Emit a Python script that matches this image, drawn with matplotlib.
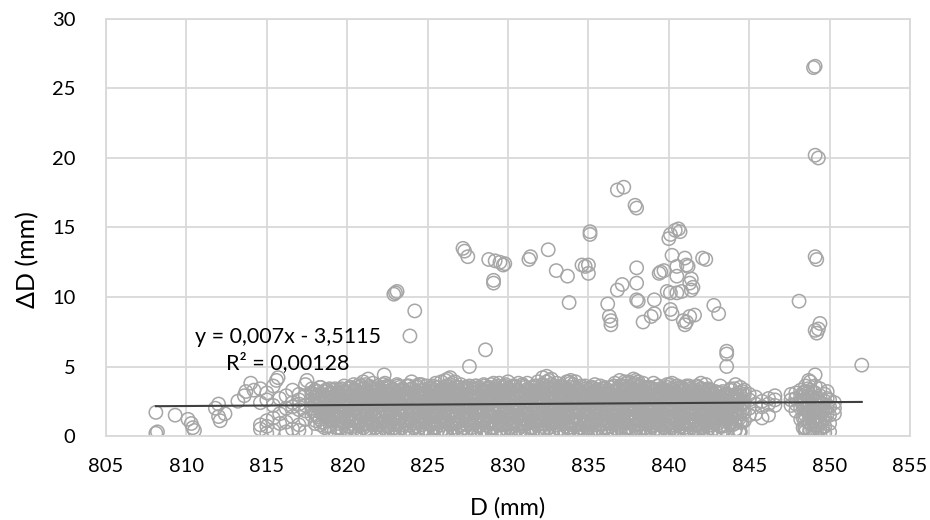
import numpy as np
import matplotlib
matplotlib.use("Agg")
from matplotlib import pyplot as plt

plt.rcParams['font.family'] = ['Lato', 'DejaVu Sans']

# sparse points on the left and isolated high values
out_x = [808.1, 808.1, 808.2, 809.3, 810.1, 810.3, 810.5, 810.4, 811.8, 812.0, 812.1, 812.0, 812.4,
         813.2, 813.6, 813.7, 814.0, 814.2, 815.6, 815.7, 817.5, 822.3,
         823.0, 823.1, 822.9, 824.2, 823.9,
         827.3, 827.5, 827.2, 827.6, 828.6,
         828.8, 829.2, 829.5, 829.8, 829.7, 829.1, 829.1, 831.3, 831.4,
         832.5, 833.0, 833.7, 833.8,
         834.6, 834.8, 835.0, 835.0, 835.1, 835.1,
         836.2, 836.4, 836.4, 836.3, 836.8, 837.2,
         836.8, 837.1, 837.9, 838.0, 838.0, 838.0,
         838.0, 838.1, 838.4, 838.9, 839.1, 839.1,
         839.5, 839.4, 839.7, 839.9, 840.1, 840.1, 840.2,
         840.0, 840.1, 840.4, 840.7, 840.6,
         840.2, 840.5, 840.5, 840.5, 840.8,
         840.9, 841.1, 841.3, 841.6, 841.0,
         841.0, 841.1, 841.2, 841.4, 841.3, 841.4, 841.5,
         842.1, 842.3, 842.8, 843.1, 843.6, 843.6, 843.6,
         848.1, 849.1, 849.0, 849.1, 849.3, 849.1, 849.2,
         849.4, 849.1, 849.2, 849.3, 852.0, 848.7]
out_y = [1.7, 0.2, 0.3, 1.5, 1.2, 0.9, 0.4, 0.6, 2.0, 1.4, 1.1, 2.3, 1.6,
         2.5, 2.9, 3.2, 3.8, 3.3, 4.0, 4.2, 4.0, 4.4,
         10.3, 10.4, 10.2, 9.0, 7.2,
         13.3, 12.9, 13.5, 5.0, 6.2,
         12.7, 12.6, 12.5, 12.4, 12.3, 11.2, 11.0, 12.7, 12.9,
         13.4, 11.9, 11.5, 9.6,
         12.3, 12.2, 12.3, 11.7, 14.7, 14.5,
         9.5, 8.3, 8.0, 8.6, 17.7, 17.9,
         10.5, 10.9, 16.6, 16.4, 12.1, 11.0,
         9.8, 9.7, 8.2, 8.6, 8.8, 9.8,
         11.8, 11.7, 11.9, 10.4, 10.3, 9.1, 8.8,
         14.2, 14.5, 14.8, 14.7, 14.9,
         13.0, 12.2, 11.5, 10.3, 10.4,
         8.3, 8.2, 8.6, 8.7, 8.0,
         12.8, 12.3, 12.2, 11.3, 11.0, 10.5, 10.7,
         12.8, 12.7, 9.4, 8.8, 5.9, 6.1, 5.0,
         9.7, 26.6, 26.5, 20.2, 20.0, 12.9, 12.7,
         8.1, 7.6, 7.4, 7.7, 5.1, 4.0]

# dense band: column positions and the values read in each column
band_cols = [814.6, 815.0, 815.4, 815.8, 816.2, 816.6, 817.0, 817.4, 817.8,
             818.0, 818.3, 818.6, 818.9, 819.2, 819.5, 819.8, 820.1, 820.4, 820.7,
             821.0, 821.3, 821.6, 821.9, 822.2, 822.5, 822.8, 823.1, 823.4, 823.7,
             824.0, 824.3, 824.6, 824.9, 825.2, 825.5, 825.8, 826.1, 826.4, 826.7,
             827.0, 827.3, 827.6, 827.9, 828.2, 828.5, 828.8, 829.1, 829.4, 829.7,
             830.0, 830.3, 830.6, 830.9, 831.2, 831.5, 831.8, 832.1, 832.4, 832.7,
             833.0, 833.3, 833.6, 833.9, 834.2, 834.5, 834.8, 835.1, 835.4, 835.7,
             836.0, 836.3, 836.6, 836.9, 837.2, 837.5, 837.8, 838.1, 838.4, 838.7,
             839.0, 839.3, 839.6, 839.9, 840.2, 840.5, 840.8, 841.1, 841.4, 841.7,
             842.0, 842.3, 842.6, 842.9, 843.2, 843.5, 843.8, 844.1, 844.4, 844.7,
             845.0, 845.4, 845.8, 846.2, 846.6, 847.6, 847.9, 848.2, 848.5, 848.8,
             849.1, 849.4, 849.7, 850.0, 850.3]
band_vals = [
    [0.5, 0.8, 2.4, 3.4], [0.2, 0.7, 1.1, 2.6, 3.1], [0.4, 1.3, 2.2, 3.6],
    [0.9, 1.6, 2.7], [0.3, 1.0, 2.0, 2.9], [0.5, 1.4, 2.1, 2.4, 3.3],
    [0.4, 0.8, 1.9, 2.3, 2.6, 3.0], [0.3, 1.2, 1.8, 2.2, 2.9, 3.7], [1.5, 2.0, 2.6, 3.1, 3.4],
    [0.9, 1.6, 2.3, 2.8, 3.3], [1.2, 1.9, 2.5, 3.0, 3.5], [0.6, 1.4, 2.1, 2.7, 3.2],
    [0.3, 1.1, 1.8, 2.4, 3.0, 3.4], [0.4, 1.5, 2.2, 2.9, 3.3], [0.2, 0.9, 1.7, 2.6, 3.1],
    [1.3, 2.0, 2.5, 3.2, 3.6], [0.2, 0.7, 1.5, 2.3, 2.9, 3.4], [0.5, 1.2, 1.9, 2.6, 3.3, 3.7],
    [0.1, 1.0, 1.7, 2.4, 3.0, 3.5], [0.6, 1.4, 2.1, 2.8, 3.4, 3.9], [0.3, 0.9, 1.6, 2.3, 3.1, 4.1],
    [0.8, 1.5, 2.2, 2.7, 3.3, 3.8], [0.1, 1.1, 1.8, 2.5, 3.0, 3.6], [0.4, 1.3, 2.0, 2.9, 3.5],
    [0.2, 0.7, 1.6, 2.4, 3.2, 3.6], [0.5, 1.2, 1.9, 2.6, 3.0, 3.4], [0.3, 1.0, 1.7, 2.3, 2.9, 3.7],
    [0.6, 1.4, 2.1, 2.8, 3.3], [0.2, 0.9, 1.6, 2.5, 3.1, 3.6], [0.4, 1.2, 2.0, 2.7, 3.4, 3.9],
    [0.7, 1.5, 2.2, 2.9, 3.5], [0.3, 1.1, 1.8, 2.4, 3.0, 3.7], [0.5, 1.3, 2.1, 2.6, 3.2],
    [0.2, 0.8, 1.6, 2.3, 2.9, 3.5], [0.6, 1.4, 1.9, 2.7, 3.3, 3.8], [0.3, 1.0, 1.7, 2.5, 3.1],
    [0.4, 1.2, 2.0, 2.8, 3.4, 4.0], [0.1, 0.8, 1.5, 2.2, 3.0, 3.7, 4.2], [0.5, 1.3, 2.1, 2.6, 3.2, 3.9],
    [0.3, 1.1, 1.8, 2.4, 3.0, 3.5], [0.6, 1.4, 2.2, 2.9, 3.3], [0.2, 0.9, 1.6, 2.3, 2.8, 3.6],
    [0.4, 1.2, 1.9, 2.7, 3.4], [0.1, 0.7, 1.5, 2.1, 2.9, 3.5], [0.5, 1.3, 2.0, 2.6, 3.2, 3.7],
    [0.2, 1.0, 1.7, 2.4, 3.0, 3.4], [0.6, 1.4, 2.2, 2.8, 3.3, 3.8], [0.3, 1.1, 1.8, 2.5, 3.1, 3.6],
    [0.1, 0.8, 1.6, 2.3, 2.9, 3.5], [0.4, 1.2, 2.0, 2.7, 3.4, 3.9], [0.2, 0.9, 1.5, 2.2, 3.0, 3.6],
    [0.5, 1.3, 2.1, 2.8, 3.3], [0.0, 0.7, 1.7, 2.4, 3.1, 3.7], [0.3, 1.0, 1.9, 2.6, 3.2, 3.8],
    [0.1, 0.6, 1.4, 2.2, 2.9, 3.5], [0.4, 1.1, 1.8, 2.5, 3.0, 3.6], [0.2, 0.9, 1.6, 2.3, 2.8, 3.4],
    [0.5, 1.3, 2.0, 2.7, 3.3, 3.9, 4.3], [0.3, 1.0, 1.7, 2.4, 3.1, 3.7, 4.1], [0.1, 0.8, 1.5, 2.2, 2.9, 3.5],
    [0.4, 1.2, 1.9, 2.6, 3.2, 3.6], [0.2, 0.7, 1.6, 2.3, 3.0, 3.4], [0.5, 1.1, 1.8, 2.5, 3.1, 3.8, 4.0],
    [0.3, 0.9, 1.4, 2.1, 2.8, 3.5, 3.9], [0.0, 0.6, 1.3, 2.0, 2.7, 3.3], [0.4, 1.0, 1.7, 2.4, 3.0, 3.6],
    [0.2, 0.8, 1.5, 2.2, 2.9, 3.4], [0.5, 1.2, 1.9, 2.6, 3.2, 3.7], [0.3, 0.9, 1.6, 2.3, 2.8, 3.3],
    [0.6, 1.3, 2.0, 2.5, 3.1, 3.5], [0.2, 1.0, 1.7, 2.4, 3.0], [0.4, 1.1, 1.8, 2.6, 3.2, 3.6],
    [0.1, 0.7, 1.5, 2.2, 2.9, 3.4], [0.3, 1.0, 1.7, 2.5, 3.1, 3.6], [0.0, 0.6, 1.4, 2.1, 2.8, 3.4, 3.9],
    [0.4, 1.2, 1.9, 2.6, 3.2, 3.7, 4.1], [0.2, 0.8, 1.6, 2.3, 3.0, 3.5, 3.9], [0.0, 0.5, 1.3, 2.0, 2.7, 3.3, 3.8],
    [0.3, 1.1, 1.8, 2.4, 3.0, 3.5], [0.1, 0.7, 1.5, 2.2, 2.9, 3.4], [0.4, 1.0, 1.7, 2.5, 3.1, 3.6],
    [0.2, 0.8, 1.4, 2.1, 2.8, 3.3], [0.5, 1.2, 1.9, 2.6, 3.2, 3.7], [0.0, 0.6, 1.3, 2.0, 2.7, 3.4, 3.8],
    [0.3, 1.0, 1.6, 2.3, 3.0, 3.6], [0.1, 0.7, 1.5, 2.2, 2.9, 3.5], [0.4, 1.1, 1.8, 2.5, 3.1, 3.6],
    [0.2, 0.9, 1.6, 2.4, 3.0, 3.4], [0.5, 1.2, 2.0, 2.7, 3.3], [0.0, 0.6, 1.4, 2.1, 2.8, 3.4, 3.8],
    [0.3, 1.0, 1.7, 2.4, 3.0, 3.7], [0.1, 0.8, 1.5, 2.2, 2.9, 3.3], [0.4, 1.1, 1.9, 2.6, 3.2],
    [0.2, 0.7, 1.4, 2.0, 2.7, 3.1, 3.6], [0.5, 1.2, 1.8, 2.5, 3.0], [1.0, 1.6, 2.3, 2.9, 3.3],
    [0.3, 0.9, 1.5, 2.2, 2.8, 3.4], [0.2, 0.4, 1.3, 2.0, 2.6, 3.1], [1.1, 1.7, 2.4, 3.0, 3.3],
    [1.5, 2.0, 2.6, 3.0], [1.6, 2.3, 2.8], [1.3, 2.1, 2.5],
    [1.5, 2.3, 2.7], [2.2, 2.6, 2.9], [2.2, 2.6, 3.0],
    [1.8, 2.3, 2.7, 3.1], [1.2, 2.0, 2.5, 2.9, 3.3], [0.3, 0.6, 1.5, 2.1, 2.6, 3.0, 3.6],
    [0.4, 0.9, 1.7, 2.3, 2.8, 3.3, 3.9], [0.2, 0.8, 1.4, 2.0, 2.6, 3.1, 3.6, 4.4], [0.1, 0.5, 1.2, 1.8, 2.4, 2.9, 3.4],
    [0.2, 0.7, 1.3, 1.9, 2.5, 3.0], [0.3, 0.9, 1.5, 2.1, 2.6], [1.6, 2.0, 2.4],
]

# second pass over the band, read between the first columns
band2_cols = [817.85, 818.15, 818.45, 818.75, 819.05, 819.35, 819.65, 819.95, 820.25, 820.55,
              820.85, 821.15, 821.45, 821.75, 822.05, 822.35, 822.65, 822.95, 823.25, 823.55,
              823.85, 824.15, 824.45, 824.75, 825.05, 825.35, 825.65, 825.95, 826.25, 826.55,
              826.85, 827.15, 827.45, 827.75, 828.05, 828.35, 828.65, 828.95, 829.25, 829.55,
              829.85, 830.15, 830.45, 830.75, 831.05, 831.35, 831.65, 831.95, 832.25, 832.55,
              832.85, 833.15, 833.45, 833.75, 834.05, 834.35, 834.65, 834.95, 835.25, 835.55,
              835.85, 836.15, 836.45, 836.75, 837.05, 837.35, 837.65, 837.95, 838.25, 838.55,
              838.85, 839.15, 839.45, 839.75, 840.05, 840.35, 840.65, 840.95, 841.25, 841.55,
              841.85, 842.15, 842.45, 842.75, 843.05, 843.35, 843.65, 843.95, 844.25, 844.55,
              848.35, 848.65, 848.95, 849.25, 849.55, 849.85]
band2_vals = [
    [1.8, 2.4, 3.0], [1.4, 2.2, 2.8, 3.2], [1.0, 1.7, 2.5, 3.0],
    [0.7, 1.4, 2.0, 2.7, 3.3], [1.1, 1.8, 2.6, 3.1], [0.6, 1.3, 2.1, 2.8],
    [1.0, 1.6, 2.3, 2.9, 3.4], [0.5, 1.2, 2.0, 2.6, 3.2], [0.9, 1.6, 2.2, 2.9, 3.5],
    [0.4, 1.3, 2.0, 2.7, 3.3], [0.8, 1.5, 2.3, 3.0, 3.6], [0.5, 1.2, 1.9, 2.6, 3.2, 3.7],
    [1.0, 1.8, 2.5, 3.0, 3.5], [0.6, 1.3, 2.0, 2.8, 3.3], [0.9, 1.6, 2.2, 2.7, 3.4],
    [0.5, 1.1, 1.8, 2.6, 3.1, 3.8], [0.8, 1.5, 2.3, 2.9, 3.5], [0.6, 1.3, 2.0, 2.7, 3.2],
    [1.0, 1.6, 2.4, 3.0, 3.5], [0.4, 1.1, 1.9, 2.6, 3.3], [0.8, 1.5, 2.2, 2.9, 3.6],
    [0.6, 1.3, 2.0, 2.6, 3.1], [1.0, 1.7, 2.4, 3.1, 3.7], [0.5, 1.2, 1.9, 2.7, 3.3],
    [0.9, 1.5, 2.1, 2.8, 3.4], [0.6, 1.2, 1.9, 2.5, 3.1, 3.6], [1.0, 1.8, 2.4, 3.0, 3.5],
    [0.5, 1.3, 2.1, 2.7, 3.3], [0.9, 1.6, 2.3, 2.9, 3.6, 4.1], [0.6, 1.2, 1.9, 2.6, 3.2, 3.8],
    [1.0, 1.7, 2.4, 3.0, 3.5], [0.5, 1.3, 2.0, 2.7, 3.4], [0.8, 1.5, 2.2, 2.9, 3.5],
    [0.6, 1.3, 2.0, 2.6, 3.1], [1.0, 1.7, 2.5, 3.1, 3.6], [0.4, 1.1, 1.8, 2.5, 3.2],
    [0.8, 1.5, 2.2, 2.8, 3.4], [0.6, 1.4, 2.0, 2.7, 3.3, 3.7], [1.0, 1.6, 2.3, 3.0, 3.5],
    [0.5, 1.2, 1.9, 2.6, 3.2], [0.9, 1.6, 2.4, 3.1, 3.7], [0.6, 1.3, 2.0, 2.7, 3.3],
    [1.0, 1.7, 2.4, 3.0, 3.6], [0.4, 1.2, 1.9, 2.6, 3.2], [0.8, 1.5, 2.2, 2.9, 3.5],
    [0.6, 1.3, 2.0, 2.7, 3.3], [1.0, 1.7, 2.5, 3.1, 3.6], [0.5, 1.2, 1.9, 2.6, 3.2],
    [0.9, 1.6, 2.3, 3.0, 3.6], [0.6, 1.3, 2.1, 2.8, 3.4, 4.0], [1.0, 1.7, 2.4, 3.0, 3.6],
    [0.5, 1.2, 1.9, 2.6, 3.2], [0.9, 1.6, 2.3, 2.9, 3.5], [0.6, 1.3, 2.0, 2.7, 3.3, 3.9],
    [1.0, 1.7, 2.4, 3.1, 3.7], [0.5, 1.2, 1.9, 2.6, 3.2], [0.8, 1.5, 2.2, 2.9, 3.5],
    [0.6, 1.3, 2.0, 2.7, 3.3], [1.0, 1.7, 2.4, 3.0, 3.5], [0.5, 1.2, 1.9, 2.6, 3.1],
    [0.9, 1.6, 2.3, 2.9, 3.4], [0.6, 1.3, 2.0, 2.7, 3.2], [1.0, 1.7, 2.4, 3.0, 3.5],
    [0.5, 1.2, 1.9, 2.6, 3.2], [0.8, 1.5, 2.2, 2.9, 3.6], [0.6, 1.3, 2.0, 2.7, 3.3, 3.8],
    [1.0, 1.7, 2.4, 3.1, 3.6], [0.5, 1.2, 1.9, 2.6, 3.3, 4.0], [0.9, 1.6, 2.3, 3.0, 3.6],
    [0.6, 1.3, 2.0, 2.7, 3.2], [1.0, 1.7, 2.4, 3.0, 3.5], [0.5, 1.2, 1.9, 2.6, 3.2],
    [0.8, 1.5, 2.2, 2.9, 3.4], [0.6, 1.3, 2.0, 2.7, 3.3], [1.0, 1.7, 2.4, 3.1, 3.7],
    [0.5, 1.2, 1.9, 2.6, 3.2], [0.9, 1.6, 2.3, 2.9, 3.5], [0.6, 1.3, 2.0, 2.7, 3.3],
    [1.0, 1.7, 2.4, 3.0, 3.6], [0.5, 1.2, 1.9, 2.6, 3.2], [0.8, 1.5, 2.2, 2.9, 3.5],
    [0.6, 1.3, 2.0, 2.7, 3.3], [1.0, 1.7, 2.4, 3.0, 3.4], [0.5, 1.2, 1.9, 2.6, 3.1],
    [0.9, 1.6, 2.3, 2.8], [0.7, 1.3, 2.0, 2.6, 3.2], [1.2, 1.8, 2.5, 3.0],
    [0.8, 1.4, 2.1, 2.7], [1.3, 1.9, 2.6, 3.0],
    [1.0, 1.8, 2.4, 3.2], [0.6, 1.3, 2.0, 2.6, 3.1], [1.0, 1.7, 2.3, 2.9, 3.4],
    [0.4, 1.1, 1.6, 2.2, 2.8, 3.2], [0.8, 1.4, 2.0, 2.7], [0.6, 1.2, 1.8, 2.3],
]

# third pass over the densest part of the band
band3_cols = [818.05, 818.35, 818.65, 818.95, 819.25, 819.55, 819.85, 820.15, 820.45, 820.75,
              821.05, 821.35, 821.65, 821.95, 822.25, 822.55, 822.85, 823.15, 823.45, 823.75,
              824.05, 824.35, 824.65, 824.95, 825.25, 825.55, 825.85, 826.15, 826.45, 826.75,
              827.05, 827.35, 827.65, 827.95, 828.25, 828.55, 828.85, 829.15, 829.45, 829.75,
              830.05, 830.35, 830.65, 830.95, 831.25, 831.55, 831.85, 832.15, 832.45, 832.75,
              833.05, 833.35, 833.65, 833.95, 834.25, 834.55, 834.85, 835.15, 835.45, 835.75,
              836.05, 836.35, 836.65, 836.95, 837.25, 837.55, 837.85, 838.15, 838.45, 838.75,
              839.05, 839.35, 839.65, 839.95, 840.25, 840.55, 840.85, 841.15, 841.45, 841.75,
              842.05, 842.35, 842.65, 842.95, 843.25, 843.55, 843.85, 844.15, 844.45,
              848.45, 848.75, 849.05, 849.35, 849.65, 849.95]
band3_vals = [
    [1.6, 2.1, 2.7, 3.2], [1.1, 1.5, 2.3, 2.9], [0.8, 1.7, 2.4, 3.5],
    [1.4, 2.0, 2.8, 3.3], [0.7, 1.2, 1.9, 2.5, 3.1], [1.3, 2.2, 2.9, 3.4],
    [0.6, 1.5, 2.1, 2.8, 3.3], [1.0, 1.8, 2.5, 3.2], [0.3, 1.4, 2.2, 2.9, 3.5],
    [0.7, 1.3, 2.0, 2.7, 3.2], [0.2, 1.0, 1.8, 2.5, 3.1, 3.7], [0.8, 1.5, 2.1, 2.9, 3.4],
    [0.3, 1.1, 1.9, 2.6, 3.0, 3.6], [0.9, 1.6, 2.3, 2.9, 3.5], [0.2, 0.8, 1.4, 2.2, 2.8, 3.3],
    [1.0, 1.7, 2.4, 3.0, 3.7], [0.4, 1.0, 1.6, 2.3, 2.9, 3.5], [0.8, 1.5, 2.2, 2.8, 3.3],
    [0.3, 1.0, 1.7, 2.5, 3.1, 3.6], [0.8, 1.4, 2.1, 2.9, 3.4], [0.2, 1.1, 1.8, 2.4, 3.0, 3.6],
    [0.9, 1.6, 2.3, 2.8, 3.4], [0.4, 1.0, 1.7, 2.5, 3.1, 3.6], [0.8, 1.4, 2.2, 2.8, 3.3],
    [0.3, 1.1, 1.8, 2.4, 3.0, 3.6], [0.9, 1.6, 2.3, 2.9, 3.4], [0.2, 1.0, 1.5, 2.2, 2.8, 3.5],
    [0.8, 1.4, 2.1, 2.7, 3.3, 3.9], [0.3, 1.1, 1.8, 2.5, 3.1, 3.6], [0.9, 1.6, 2.3, 2.8, 3.4],
    [0.2, 0.9, 1.5, 2.2, 2.9, 3.5], [0.8, 1.4, 2.1, 2.7, 3.1, 3.7], [0.3, 1.1, 1.8, 2.4, 3.0, 3.5],
    [0.9, 1.6, 2.2, 2.9, 3.4], [0.2, 1.0, 1.7, 2.3, 2.8, 3.6], [0.8, 1.4, 2.1, 2.8, 3.3],
    [0.3, 1.1, 1.8, 2.5, 3.1, 3.6], [0.9, 1.5, 2.3, 2.9, 3.5], [0.2, 0.9, 1.6, 2.2, 2.8, 3.4],
    [0.8, 1.4, 2.1, 2.7, 3.3, 3.8], [0.3, 1.1, 1.8, 2.5, 3.1, 3.6], [0.9, 1.6, 2.3, 2.9, 3.4],
    [0.2, 0.9, 1.5, 2.2, 2.8, 3.5], [0.8, 1.4, 2.1, 2.8, 3.3, 3.8], [0.3, 1.0, 1.7, 2.4, 3.0, 3.6],
    [0.9, 1.6, 2.3, 2.9, 3.4], [0.2, 1.0, 1.6, 2.2, 2.8, 3.5], [0.8, 1.4, 2.1, 2.7, 3.3, 3.9],
    [0.3, 1.1, 1.8, 2.5, 3.1, 3.7, 4.2], [0.9, 1.6, 2.3, 2.9, 3.5], [0.2, 0.9, 1.5, 2.2, 2.8, 3.4],
    [0.8, 1.4, 2.1, 2.7, 3.3, 3.8], [0.3, 1.1, 1.8, 2.5, 3.1, 3.6], [0.9, 1.6, 2.2, 2.9, 3.4, 3.9],
    [0.2, 1.0, 1.7, 2.3, 2.8, 3.5], [0.8, 1.4, 2.1, 2.8, 3.3], [0.3, 1.1, 1.8, 2.4, 3.0, 3.6],
    [0.9, 1.5, 2.3, 2.9, 3.4], [0.2, 0.9, 1.6, 2.2, 2.8, 3.5], [0.8, 1.4, 2.1, 2.7, 3.3],
    [0.3, 1.1, 1.8, 2.5, 3.1, 3.6], [0.9, 1.6, 2.3, 2.9, 3.4], [0.2, 0.9, 1.5, 2.2, 2.8, 3.5],
    [0.8, 1.4, 2.1, 2.8, 3.3, 3.8], [0.3, 1.0, 1.7, 2.4, 3.0, 3.6, 4.0], [0.9, 1.6, 2.3, 2.9, 3.4, 3.9],
    [0.2, 1.0, 1.6, 2.2, 2.8, 3.5], [0.8, 1.4, 2.1, 2.7, 3.3, 3.8], [0.3, 1.1, 1.8, 2.5, 3.1, 3.6],
    [0.9, 1.6, 2.3, 2.9, 3.5], [0.2, 0.9, 1.5, 2.2, 2.8, 3.4], [0.8, 1.4, 2.1, 2.7, 3.3, 3.8],
    [0.3, 1.1, 1.8, 2.5, 3.1, 3.6], [0.9, 1.6, 2.2, 2.9, 3.4], [0.2, 1.0, 1.7, 2.3, 2.8, 3.5],
    [0.8, 1.4, 2.1, 2.8, 3.3], [0.3, 1.1, 1.8, 2.4, 3.0, 3.6], [0.9, 1.5, 2.3, 2.9, 3.4],
    [0.2, 0.9, 1.6, 2.2, 2.8, 3.5], [0.8, 1.4, 2.1, 2.7, 3.3], [0.3, 1.1, 1.8, 2.5, 3.1, 3.6],
    [0.9, 1.6, 2.3, 2.9, 3.4], [0.2, 0.9, 1.5, 2.2, 2.8, 3.3], [0.8, 1.4, 2.1, 2.7, 3.2],
    [1.3, 1.9, 2.6, 3.1], [0.8, 1.5, 2.2, 2.8], [1.2, 1.8, 2.4, 3.0],
    [0.9, 1.5, 2.2, 2.8, 3.4], [0.5, 1.2, 1.9, 2.5, 3.0, 3.7], [0.3, 1.0, 1.6, 2.3, 2.9, 3.5],
    [0.6, 1.3, 2.0, 2.6, 3.2], [0.4, 1.0, 1.7, 2.2, 2.8], [0.5, 1.1, 1.7, 2.1],
]

# linear trend shown on the chart
trend_slope = 0.007
trend_icept = -3.5115
trend_x = [808.1, 852.0]
trend_eq = "y = 0,007x - 3,5115"
trend_r2 = "R² = 0,00128"

all_cols = band_cols + band2_cols + band3_cols
all_vals = band_vals + band2_vals + band3_vals
band_x = [c for c, vals in zip(all_cols, all_vals) for _ in vals]
band_y = [v for vals in all_vals for v in vals]
xs = np.array(out_x + band_x)
ys = np.array(out_y + band_y)

fig = plt.figure(figsize=(9.3, 5.2), dpi=100)
ax = fig.add_axes([0.114, 0.1615, 0.8645, 0.802])

ax.scatter(xs, ys, s=92, facecolors='none', edgecolors='#a6a6a6', linewidths=1.1, zorder=2)
tx = np.array(trend_x)
ax.plot(tx, trend_slope * tx + trend_icept, color='#404040', linewidth=1.5, zorder=3)

ax.text(816.3, 7.1, trend_eq, ha='center', va='center', fontsize=15.5, zorder=4)
ax.text(816.3, 5.25, trend_r2, ha='center', va='center', fontsize=15.5, zorder=4)

ax.set_xlim(805, 855)
ax.set_ylim(0, 30)
ax.set_xticks(range(805, 856, 5))
ax.set_yticks(range(0, 31, 5))
ax.grid(True, color='#d9d9d9', linewidth=1.3, zorder=0)
ax.set_axisbelow(True)
for s in ax.spines.values():
    s.set_color('#d9d9d9')
    s.set_linewidth(1.3)
ax.tick_params(length=0, labelsize=14.5, pad=16)
ax.tick_params(axis='y', pad=22)
ax.set_xlabel('D (mm)', fontsize=17, va='center')
ax.set_ylabel('ΔD (mm)', fontsize=18, va='center')
ax.xaxis.set_label_coords(0.5, -0.173)
ax.yaxis.set_label_coords(-0.097, 0.424)

fig.savefig('out.png', dpi=100)
